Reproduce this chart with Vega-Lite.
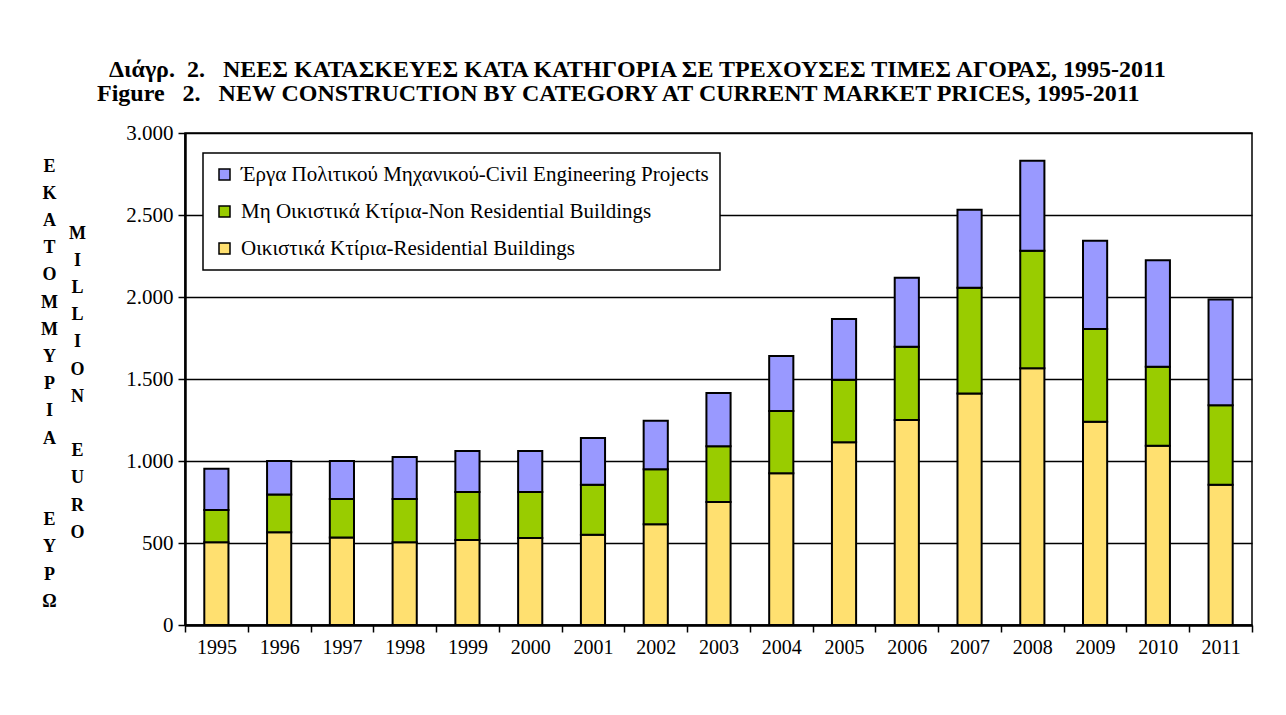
{
  "$schema": "https://vega.github.io/schema/vega-lite/v6.json",
  "width": 1067,
  "height": 492,
  "autosize": "none",
  "padding": {"left": 185, "top": 133, "right": 34, "bottom": 90},
  "background": "white",
  "title": {
    "text": ["\u200b\u00a0\u00a0Διάγρ.\u00a0\u00a02.\u00a0\u00a0\u00a0ΝΕΕΣ ΚΑΤΑΣΚΕΥΕΣ ΚΑΤΑ ΚΑΤΗΓΟΡΙΑ ΣΕ ΤΡΕΧΟΥΣΕΣ ΤΙΜΕΣ ΑΓΟΡΑΣ, 1995-2011", "Figure\u00a0\u00a0\u00a02.\u00a0\u00a0\u00a0NEW CONSTRUCTION BY CATEGORY AT CURRENT MARKET PRICES, 1995-2011"],
    "anchor": "start",
    "frame": "group",
    "dx": -88,
    "offset": 16,
    "font": "Liberation Serif",
    "fontSize": 24,
    "fontWeight": "bold",
    "lineHeight": 24,
    "color": "black"
  },
  "data": {
    "values": [
      {"year": "1995", "cat": "Οικιστικά Κτίρια-Residential Buildings", "rank": 1, "value": 504},
      {"year": "1995", "cat": "Μη Οικιστικά Κτίρια-Non Residential Buildings", "rank": 2, "value": 197},
      {"year": "1995", "cat": "Έργα Πολιτικού Μηχανικού-Civil Engineering Projects", "rank": 3, "value": 252},
      {"year": "1996", "cat": "Οικιστικά Κτίρια-Residential Buildings", "rank": 1, "value": 565},
      {"year": "1996", "cat": "Μη Οικιστικά Κτίρια-Non Residential Buildings", "rank": 2, "value": 230},
      {"year": "1996", "cat": "Έργα Πολιτικού Μηχανικού-Civil Engineering Projects", "rank": 3, "value": 205},
      {"year": "1997", "cat": "Οικιστικά Κτίρια-Residential Buildings", "rank": 1, "value": 534},
      {"year": "1997", "cat": "Μη Οικιστικά Κτίρια-Non Residential Buildings", "rank": 2, "value": 235},
      {"year": "1997", "cat": "Έργα Πολιτικού Μηχανικού-Civil Engineering Projects", "rank": 3, "value": 231},
      {"year": "1998", "cat": "Οικιστικά Κτίρια-Residential Buildings", "rank": 1, "value": 504},
      {"year": "1998", "cat": "Μη Οικιστικά Κτίρια-Non Residential Buildings", "rank": 2, "value": 265},
      {"year": "1998", "cat": "Έργα Πολιτικού Μηχανικού-Civil Engineering Projects", "rank": 3, "value": 255},
      {"year": "1999", "cat": "Οικιστικά Κτίρια-Residential Buildings", "rank": 1, "value": 518},
      {"year": "1999", "cat": "Μη Οικιστικά Κτίρια-Non Residential Buildings", "rank": 2, "value": 293},
      {"year": "1999", "cat": "Έργα Πολιτικού Μηχανικού-Civil Engineering Projects", "rank": 3, "value": 250},
      {"year": "2000", "cat": "Οικιστικά Κτίρια-Residential Buildings", "rank": 1, "value": 530},
      {"year": "2000", "cat": "Μη Οικιστικά Κτίρια-Non Residential Buildings", "rank": 2, "value": 281},
      {"year": "2000", "cat": "Έργα Πολιτικού Μηχανικού-Civil Engineering Projects", "rank": 3, "value": 250},
      {"year": "2001", "cat": "Οικιστικά Κτίρια-Residential Buildings", "rank": 1, "value": 550},
      {"year": "2001", "cat": "Μη Οικιστικά Κτίρια-Non Residential Buildings", "rank": 2, "value": 305},
      {"year": "2001", "cat": "Έργα Πολιτικού Μηχανικού-Civil Engineering Projects", "rank": 3, "value": 285},
      {"year": "2002", "cat": "Οικιστικά Κτίρια-Residential Buildings", "rank": 1, "value": 615},
      {"year": "2002", "cat": "Μη Οικιστικά Κτίρια-Non Residential Buildings", "rank": 2, "value": 335},
      {"year": "2002", "cat": "Έργα Πολιτικού Μηχανικού-Civil Engineering Projects", "rank": 3, "value": 295},
      {"year": "2003", "cat": "Οικιστικά Κτίρια-Residential Buildings", "rank": 1, "value": 750},
      {"year": "2003", "cat": "Μη Οικιστικά Κτίρια-Non Residential Buildings", "rank": 2, "value": 340},
      {"year": "2003", "cat": "Έργα Πολιτικού Μηχανικού-Civil Engineering Projects", "rank": 3, "value": 325},
      {"year": "2004", "cat": "Οικιστικά Κτίρια-Residential Buildings", "rank": 1, "value": 925},
      {"year": "2004", "cat": "Μη Οικιστικά Κτίρια-Non Residential Buildings", "rank": 2, "value": 380},
      {"year": "2004", "cat": "Έργα Πολιτικού Μηχανικού-Civil Engineering Projects", "rank": 3, "value": 335},
      {"year": "2005", "cat": "Οικιστικά Κτίρια-Residential Buildings", "rank": 1, "value": 1115},
      {"year": "2005", "cat": "Μη Οικιστικά Κτίρια-Non Residential Buildings", "rank": 2, "value": 380},
      {"year": "2005", "cat": "Έργα Πολιτικού Μηχανικού-Civil Engineering Projects", "rank": 3, "value": 371},
      {"year": "2006", "cat": "Οικιστικά Κτίρια-Residential Buildings", "rank": 1, "value": 1250},
      {"year": "2006", "cat": "Μη Οικιστικά Κτίρια-Non Residential Buildings", "rank": 2, "value": 447},
      {"year": "2006", "cat": "Έργα Πολιτικού Μηχανικού-Civil Engineering Projects", "rank": 3, "value": 421},
      {"year": "2007", "cat": "Οικιστικά Κτίρια-Residential Buildings", "rank": 1, "value": 1412},
      {"year": "2007", "cat": "Μη Οικιστικά Κτίρια-Non Residential Buildings", "rank": 2, "value": 645},
      {"year": "2007", "cat": "Έργα Πολιτικού Μηχανικού-Civil Engineering Projects", "rank": 3, "value": 475},
      {"year": "2008", "cat": "Οικιστικά Κτίρια-Residential Buildings", "rank": 1, "value": 1565},
      {"year": "2008", "cat": "Μη Οικιστικά Κτίρια-Non Residential Buildings", "rank": 2, "value": 717},
      {"year": "2008", "cat": "Έργα Πολιτικού Μηχανικού-Civil Engineering Projects", "rank": 3, "value": 549},
      {"year": "2009", "cat": "Οικιστικά Κτίρια-Residential Buildings", "rank": 1, "value": 1240},
      {"year": "2009", "cat": "Μη Οικιστικά Κτίρια-Non Residential Buildings", "rank": 2, "value": 565},
      {"year": "2009", "cat": "Έργα Πολιτικού Μηχανικού-Civil Engineering Projects", "rank": 3, "value": 538},
      {"year": "2010", "cat": "Οικιστικά Κτίρια-Residential Buildings", "rank": 1, "value": 1093},
      {"year": "2010", "cat": "Μη Οικιστικά Κτίρια-Non Residential Buildings", "rank": 2, "value": 482},
      {"year": "2010", "cat": "Έργα Πολιτικού Μηχανικού-Civil Engineering Projects", "rank": 3, "value": 649},
      {"year": "2011", "cat": "Οικιστικά Κτίρια-Residential Buildings", "rank": 1, "value": 855},
      {"year": "2011", "cat": "Μη Οικιστικά Κτίρια-Non Residential Buildings", "rank": 2, "value": 485},
      {"year": "2011", "cat": "Έργα Πολιτικού Μηχανικού-Civil Engineering Projects", "rank": 3, "value": 644}
    ]
  },
  "layer": [
    {
      "mark": {"type": "bar", "stroke": "black", "strokeWidth": 2, "width": {"band": 0.385}},
      "encoding": {
        "x": {
          "field": "year",
          "type": "ordinal",
          "scale": {"paddingInner": 0, "paddingOuter": 0},
          "axis": {
            "title": null,
            "labelAngle": 0,
            "labelFont": "Liberation Serif",
            "labelFontSize": 20,
            "labelColor": "black",
            "labelPadding": 5,
            "tickBand": "extent",
            "tickSize": 7,
            "tickColor": "black",
            "tickWidth": 1.5,
            "domainColor": "black",
            "domainWidth": 2.5
          }
        },
        "y": {
          "field": "value",
          "type": "quantitative",
          "stack": "zero",
          "scale": {"domain": [0, 3000], "nice": false},
          "axis": {
            "orient": "left",
            "values": [0, 500, 1000, 1500, 2000, 2500, 3000],
            "labelExpr": "replace(format(datum.value, ','), ',', '.')",
            "labelFont": "Liberation Serif",
            "labelFontSize": 21,
            "labelColor": "black",
            "labelPadding": 5,
            "tickSize": 7,
            "tickColor": "black",
            "tickWidth": 1.5,
            "domainColor": "black",
            "domainWidth": 2.5,
            "grid": true,
            "gridColor": "black",
            "gridWidth": 1.5,
            "gridOpacity": 1,
            "title": ["Ε", "Κ", "Α", "Τ", "Ο", "Μ", "Μ", "Υ", "Ρ", "Ι", "Α", "\u2800", "\u2800", "Ε", "Υ", "Ρ", "Ω"],
            "titleX": -136,
            "titleY": 24,
            "titleAngle": 0,
            "titleAlign": "center",
            "titleBaseline": "top",
            "titleFont": "Liberation Serif",
            "titleFontSize": 18,
            "titleFontWeight": "bold",
            "titleLineHeight": 27.2,
            "titleColor": "black"
          }
        },
        "color": {
          "field": "cat",
          "type": "nominal",
          "scale": {
            "domain": ["Έργα Πολιτικού Μηχανικού-Civil Engineering Projects", "Μη Οικιστικά Κτίρια-Non Residential Buildings", "Οικιστικά Κτίρια-Residential Buildings"],
            "range": ["#9999FF", "#99CC00", "#FFE070"]
          },
          "legend": {
            "orient": "none",
            "legendX": 18,
            "legendY": 20,
            "title": null,
            "padding": 11,
            "fillColor": "white",
            "strokeColor": "black",
            "labelFont": "Liberation Serif",
            "labelFontSize": 21,
            "labelColor": "black",
            "labelLimit": 800,
            "labelOffset": 6,
            "rowPadding": 15,
            "symbolType": "square",
            "symbolSize": 121,
            "symbolStrokeColor": "black",
            "symbolStrokeWidth": 1.5,
            "symbolOpacity": 1
          }
        },
        "order": {"field": "rank", "type": "quantitative"}
      }
    },
    {
      "mark": {"type": "bar", "opacity": 0},
      "encoding": {
        "x": {"field": "year", "type": "ordinal"},
        "y": {
          "field": "value",
          "type": "quantitative",
          "stack": "zero",
          "axis": {
            "orient": "left",
            "labels": false,
            "ticks": false,
            "domain": false,
            "grid": false,
            "title": ["M", "I", "L", "L", "I", "O", "N", "\u2800", "E", "U", "R", "O"],
            "titleX": -108,
            "titleY": 91,
            "titleAngle": 0,
            "titleAlign": "center",
            "titleBaseline": "top",
            "titleFont": "Liberation Serif",
            "titleFontSize": 18,
            "titleFontWeight": "bold",
            "titleLineHeight": 27.2,
            "titleColor": "black"
          }
        },
        "detail": {"field": "cat"},
        "order": {"field": "rank", "type": "quantitative"}
      }
    }
  ],
  "resolve": {"axis": {"y": "independent"}},
  "config": {
    "font": "Liberation Serif",
    "title": {"font": "Liberation Serif"},
    "axis": {"labelFont": "Liberation Serif", "titleFont": "Liberation Serif"},
    "legend": {"labelFont": "Liberation Serif", "strokeWidth": 1.5},
    "view": {"stroke": "black", "strokeWidth": 1.5}
  }
}
